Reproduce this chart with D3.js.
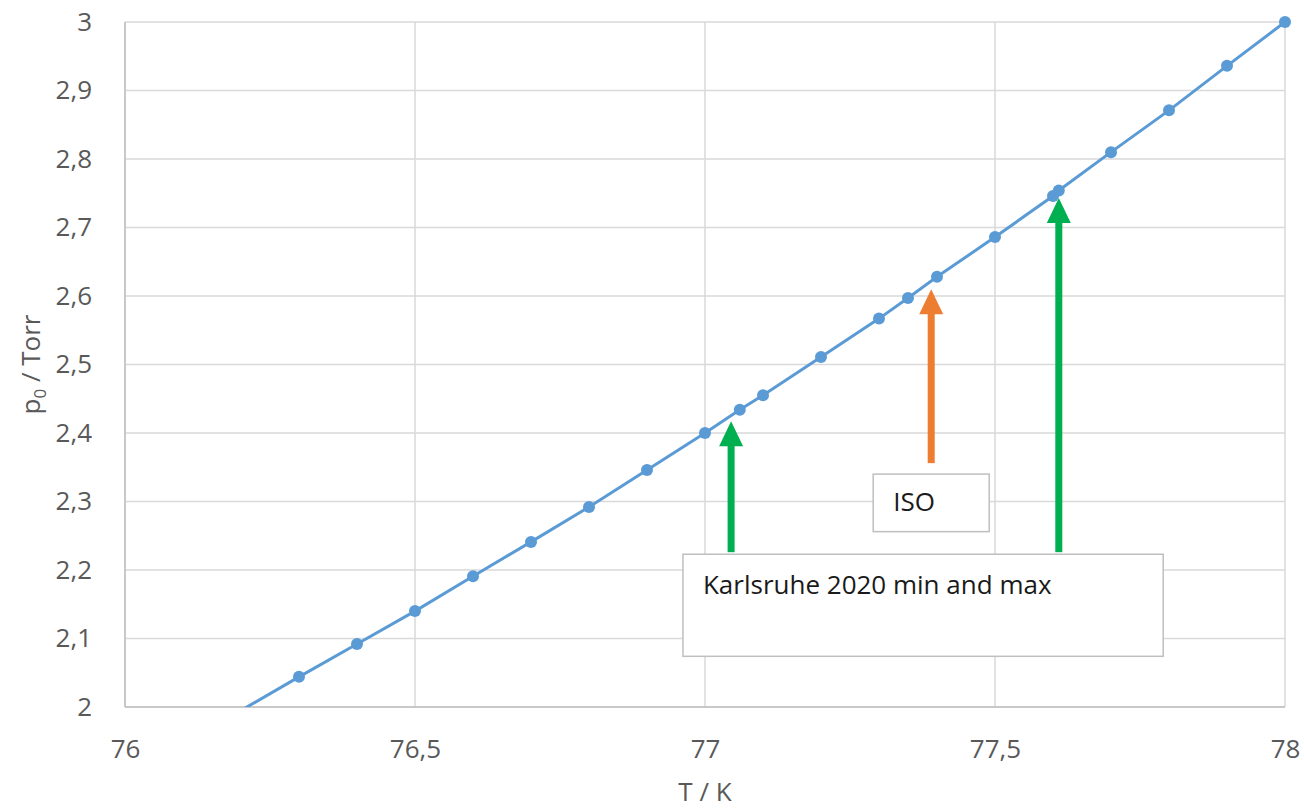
<!DOCTYPE html>
<html>
<head>
<meta charset="utf-8">
<script src="https://cdn.jsdelivr.net/npm/d3@7"></script>
<style>
  html, body { margin: 0; padding: 0; background: #fff; }
  svg { display: block; }
  text { font-family: "Open Sans", "Noto Sans", sans-serif; }
</style>
</head>
<body>
<svg id="chart" width="1304" height="810"></svg>
<script>
// Vapour pressure of nitrogen near its boiling point
const temperatures = [76.2, 76.3, 76.4, 76.5, 76.6, 76.7, 76.8, 76.9, 77.0, 77.06, 77.1,
  77.2, 77.3, 77.35, 77.4, 77.5, 77.6, 77.61, 77.7, 77.8, 77.9, 78.0];
const pressures = [1.995, 2.044, 2.092, 2.140, 2.191, 2.241, 2.292, 2.346, 2.400, 2.434, 2.455,
  2.511, 2.567, 2.597, 2.628, 2.686, 2.746, 2.754, 2.810, 2.871, 2.936, 3.000];

const xTicks = [76, 76.5, 77, 77.5, 78];
const yTicks = [2, 2.1, 2.2, 2.3, 2.4, 2.5, 2.6, 2.7, 2.8, 2.9, 3];

// Annotation arrows: temperature, tip pressure, tail pressure
const arrowT = [77.045, 77.39, 77.61];
const arrowTip = [2.417, 2.61, 2.743];
const arrowTail = [2.226, 2.356, 2.226];
const arrowColors = ["#00B050", "#ED7D31", "#00B050"];

// Text boxes: [T left, T right], [p top, p bottom]
const boxLabels = ["ISO", "Karlsruhe 2020 min and max"];
const boxT = [[77.29, 77.49], [76.962, 77.79]];
const boxP = [[2.34, 2.256], [2.223, 2.074]];

const svg = d3.select("#chart");
const m = { left: 125, right: 1285, top: 22, bottom: 707 };

const x = d3.scaleLinear().domain([76, 78]).range([m.left, m.right]);
const y = d3.scaleLinear().domain([2, 3]).range([m.bottom, m.top]);

const fmt = d => d3.format("~g")(d).replace(".", ",");

// Gridlines
svg.append("g")
  .selectAll("line.h")
  .data(yTicks)
  .join("line")
  .attr("x1", m.left).attr("x2", m.right)
  .attr("y1", d => y(d)).attr("y2", d => y(d))
  .attr("stroke", "#D9D9D9").attr("stroke-width", 1.5);

svg.append("g")
  .selectAll("line.v")
  .data(xTicks)
  .join("line")
  .attr("x1", d => x(d)).attr("x2", d => x(d))
  .attr("y1", m.top).attr("y2", m.bottom)
  .attr("stroke", "#D9D9D9").attr("stroke-width", 1.5);

// Axis lines
svg.append("line")
  .attr("x1", m.left).attr("x2", m.left).attr("y1", m.top).attr("y2", m.bottom)
  .attr("stroke", "#BFBFBF").attr("stroke-width", 1.5);
svg.append("line")
  .attr("x1", m.left).attr("x2", m.right).attr("y1", m.bottom).attr("y2", m.bottom)
  .attr("stroke", "#BFBFBF").attr("stroke-width", 1.5);

// Axes (tick labels only)
const yAxis = d3.axisLeft(y).tickValues(yTicks).tickFormat(fmt).tickSize(0).tickPadding(33);
const gy = svg.append("g").attr("transform", `translate(${m.left},0)`).call(yAxis);
gy.select(".domain").remove();
gy.selectAll("text")
  .attr("fill", "#595959").style("font-size", "26px")
  .style("font-family", "'Open Sans', sans-serif");

const xAxis = d3.axisBottom(x).tickValues(xTicks).tickFormat(fmt).tickSize(0).tickPadding(33);
const gx = svg.append("g").attr("transform", `translate(0,${m.bottom})`).call(xAxis);
gx.select(".domain").remove();
gx.selectAll("text")
  .attr("fill", "#595959").style("font-size", "26px")
  .style("font-family", "'Open Sans', sans-serif");

// Axis titles
svg.append("text")
  .attr("x", x(77)).attr("y", 801)
  .attr("text-anchor", "middle")
  .attr("fill", "#595959").style("font-size", "26px")
  .text("T / K");

const yTitle = svg.append("text")
  .attr("transform", `translate(40,${(m.top + m.bottom) / 2}) rotate(-90)`)
  .attr("text-anchor", "middle")
  .attr("fill", "#595959").style("font-size", "26px");
yTitle.append("tspan").text("p");
yTitle.append("tspan").attr("dy", 6).style("font-size", "17px").text("0");
yTitle.append("tspan").attr("dy", -6).text(" / Torr");

// Data series
const pts = temperatures.map((t, i) => ({ t, p: pressures[i] }));

svg.append("clipPath").attr("id", "plot-clip")
  .append("rect")
  .attr("x", m.left).attr("y", m.top - 10)
  .attr("width", m.right - m.left + 10).attr("height", m.bottom - m.top + 10);

const series = svg.append("g").attr("clip-path", "url(#plot-clip)");

series.append("path")
  .datum(pts)
  .attr("fill", "none")
  .attr("stroke", "#5B9BD5")
  .attr("stroke-width", 3)
  .attr("d", d3.line().x(d => x(d.t)).y(d => y(d.p)));

series.selectAll("circle")
  .data(pts.filter(d => d.p >= 2))
  .join("circle")
  .attr("cx", d => x(d.t)).attr("cy", d => y(d.p))
  .attr("r", 6)
  .attr("fill", "#5B9BD5");

// Arrows
const arrows = svg.append("g");
arrowT.forEach((t, i) => {
  const ax = x(t), tipY = y(arrowTip[i]), tailY = y(arrowTail[i]);
  const headH = 25, headW = 12, shaft = 3.5;
  arrows.append("rect")
    .attr("x", ax - shaft).attr("y", tipY + headH - 1)
    .attr("width", shaft * 2).attr("height", tailY - tipY - headH + 1)
    .attr("fill", arrowColors[i]);
  arrows.append("path")
    .attr("d", `M${ax},${tipY} L${ax + headW},${tipY + headH} L${ax - headW},${tipY + headH} Z`)
    .attr("fill", arrowColors[i]);
});

// Text boxes
const boxes = svg.append("g");
const baselineOffset = [37, 40];
boxLabels.forEach((label, i) => {
  const x0 = x(boxT[i][0]), x1 = x(boxT[i][1]);
  const y0 = y(boxP[i][0]), y1 = y(boxP[i][1]);
  boxes.append("rect")
    .attr("x", x0).attr("y", y0)
    .attr("width", x1 - x0).attr("height", y1 - y0)
    .attr("fill", "#fff")
    .attr("stroke", "#BFBFBF").attr("stroke-width", 1.5);
  boxes.append("text")
    .attr("x", x0 + 20).attr("y", y0 + baselineOffset[i])
    .attr("fill", "#1a1a1a").style("font-size", "26px")
    .text(label);
});
</script>
</body>
</html>
